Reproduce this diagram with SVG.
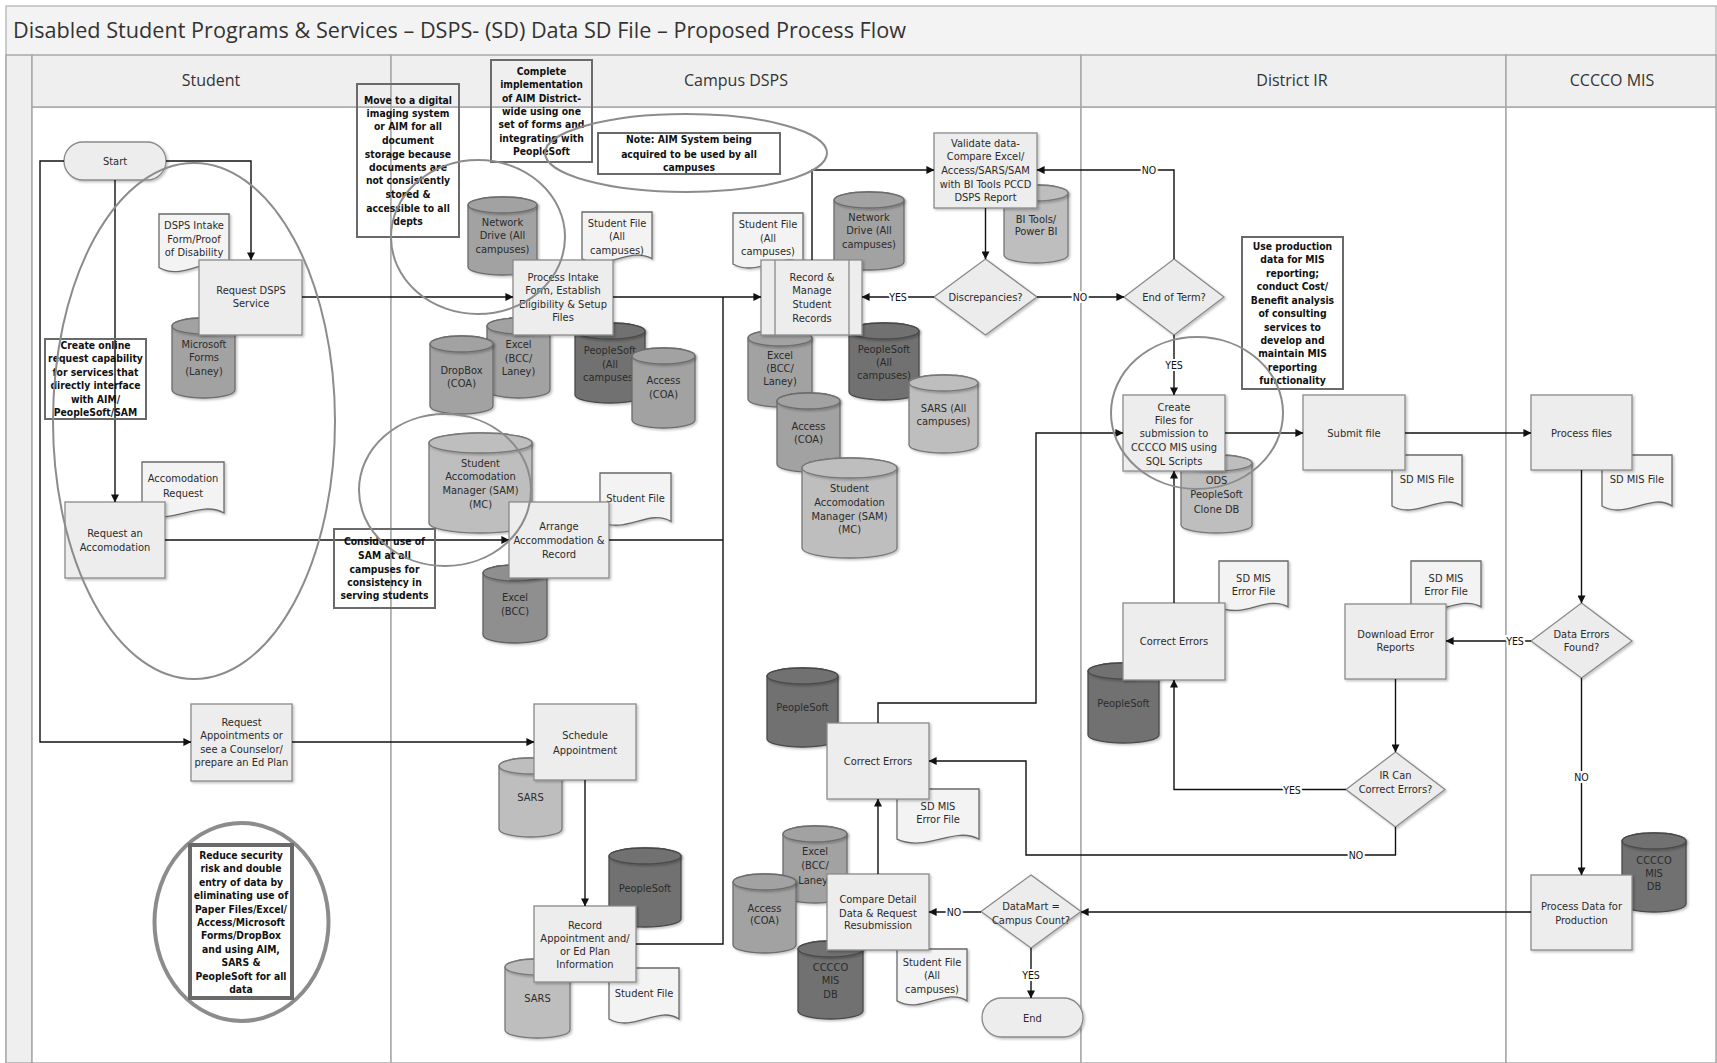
<svg xmlns="http://www.w3.org/2000/svg" width="1717" height="1063" viewBox="0 0 1717 1063">
<defs>
<filter id="sh" x="-10%" y="-10%" width="130%" height="130%"><feDropShadow dx="1.5" dy="1.5" stdDeviation="1.2" flood-color="#000" flood-opacity="0.25"/></filter>
<marker id="ar" viewBox="0 0 10 10" refX="9.5" refY="5" markerWidth="8" markerHeight="8" orient="auto" markerUnits="userSpaceOnUse"><path d="M0,0 L10,5 L0,10 Z" fill="#111"/></marker>
<style>
.lane{fill:#fff;stroke:#a9a9a9;stroke-width:1.5}
.hdr{fill:#efefef;stroke:#a9a9a9;stroke-width:1.5}
.box{fill:#ededed;stroke:#8a8a8a;stroke-width:1.3;filter:url(#sh)}
.dia{fill:#ececec;stroke:#8a8a8a;stroke-width:1.3;filter:url(#sh)}
.doc{fill:#f3f3f3;stroke:#6a6a6a;stroke-width:1.3;filter:url(#sh)}
.cm{fill:#a2a2a2;stroke:#6c6c6c;stroke-width:1.3;filter:url(#sh)}
.cmd{fill:#8f8f8f;stroke:#5e5e5e;stroke-width:1.3;filter:url(#sh)}
.cd{fill:#717171;stroke:#4a4a4a;stroke-width:1.3;filter:url(#sh)}
.cl{fill:#bebebe;stroke:#777;stroke-width:1.3;filter:url(#sh)}
.note{fill:none;stroke:#6a6a6a;stroke-width:2}
.ell{fill:none;stroke:#8c8c8c;stroke-width:2}
.c{fill:none;stroke:#111;stroke-width:1.4}
.a{marker-end:url(#ar)}
.t{font-family:"Liberation Sans Narrow","DejaVu Sans Condensed","Liberation Sans",sans-serif;font-size:11px;fill:#2b2b2b;text-anchor:middle}
.n{font-family:"Liberation Sans Narrow","DejaVu Sans Condensed","Liberation Sans",sans-serif;font-size:10.3px;font-weight:bold;fill:#111;text-anchor:middle}
.lb{font-family:"Liberation Sans Narrow","DejaVu Sans Condensed","Liberation Sans",sans-serif;font-size:10.5px;fill:#111;text-anchor:middle;stroke:#fff;stroke-width:4;paint-order:stroke}
.h{font-family:"Open Sans","Liberation Sans",sans-serif;font-size:16px;fill:#333;text-anchor:middle}
</style>
</defs>

<rect x="0" y="0" width="1717" height="1063" fill="#fff"/>
<g id="frame">
<rect x="6" y="6" width="1710" height="1057" fill="#f3f3f3" stroke="#bdbdbd" stroke-width="1.5"/>
<text x="13" y="38" font-family="Open Sans, Liberation Sans, sans-serif" font-size="21" fill="#333" textLength="893" lengthAdjust="spacingAndGlyphs">Disabled Student Programs &amp; Services – DSPS-  (SD) Data SD File – Proposed Process Flow</text>
<rect x="6" y="55" width="26" height="1008" fill="#efefef" stroke="#a9a9a9" stroke-width="1.5"/>
<rect x="32" y="107" width="359" height="956" class="lane"/>
<rect x="391" y="107" width="690" height="956" class="lane"/>
<rect x="1081" y="107" width="425" height="956" class="lane"/>
<rect x="1506" y="107" width="210" height="956" class="lane"/>
<rect x="32" y="55" width="359" height="52" class="hdr"/>
<rect x="391" y="55" width="690" height="52" class="hdr"/>
<rect x="1081" y="55" width="425" height="52" class="hdr"/>
<rect x="1506" y="55" width="210" height="52" class="hdr"/>
<text class="h" x="211" y="86">Student</text>
<text class="h" x="736" y="86">Campus DSPS</text>
<text class="h" x="1292" y="86">District IR</text>
<text class="h" x="1612" y="86">CCCCO MIS</text>
</g>

<g id="student">
<g id="start"><rect x="64" y="142" width="102" height="38" rx="19" class="box"/><text class="t" x="115" y="165">Start</text></g>
<g id="doc-intake"><path class="doc" d="M159,214 H229 V267.5 C208,253 183.5,282 159,267.5 Z"/><text class="t"><tspan x="194" y="229">DSPS Intake</tspan><tspan x="194" y="243">Form/Proof</tspan><tspan x="194" y="256">of Disability</tspan></text></g>
<g id="cyl-msforms"><path class="cm" d="M172,326 V390 A31.5,8 0 0 0 235,390 V326 A31.5,8 0 0 0 172,326 Z"/><ellipse class="cm" cx="203.5" cy="326" rx="31.5" ry="8"/><text class="t"><tspan x="204" y="348">Microsoft</tspan><tspan x="204" y="361">Forms</tspan><tspan x="204" y="375">(Laney)</tspan></text></g>
<g id="request-dsps"><rect x="199" y="260" width="103" height="75" class="box"/><text class="t"><tspan x="251" y="294">Request DSPS</tspan><tspan x="251" y="307">Service</tspan></text></g>
<g id="doc-accreq"><path class="doc" d="M142,462 H224 V513 C199.4,499.2 170.7,526.8 142,513 Z"/><text class="t"><tspan x="183" y="482">Accomodation</tspan><tspan x="183" y="496.5">Request</tspan></text></g>
<g id="request-acc"><rect x="65" y="502" width="100" height="76" class="box"/><text class="t"><tspan x="115" y="537">Request an</tspan><tspan x="115" y="550.5">Accomodation</tspan></text></g>
<g id="request-appt"><rect x="191" y="704" width="101" height="77" class="box"/><text class="t"><tspan x="241.5" y="725.5">Request</tspan><tspan x="241.5" y="739">Appointments or</tspan><tspan x="241.5" y="753">see a Counselor/</tspan><tspan x="241.5" y="766">prepare an Ed Plan</tspan></text></g>
</g>

<g id="campus">
<g id="cyl-netdrive1"><path class="cm" d="M468,205 V267 A34.5,8 0 0 0 537,267 V205 A34.5,8 0 0 0 468,205 Z"/><ellipse class="cm" cx="502.5" cy="205" rx="34.5" ry="8"/><text class="t"><tspan x="502.5" y="226">Network</tspan><tspan x="502.5" y="239">Drive (All</tspan><tspan x="502.5" y="252.5">campuses)</tspan></text></g>
<g id="doc-sf1"><path class="doc" d="M582,212 H652 V258.8 C631,246.1 606.5,271.4 582,258.8 Z"/><text class="t"><tspan x="617" y="227">Student File</tspan><tspan x="617" y="240">(All</tspan><tspan x="617" y="253.5">campuses)</tspan></text></g>
<g id="cyl-excel1"><path class="cm" d="M487,326 V390 A31.5,8 0 0 0 550,390 V326 A31.5,8 0 0 0 487,326 Z"/><ellipse class="cm" cx="518.5" cy="326" rx="31.5" ry="8"/><text class="t"><tspan x="518.5" y="348">Excel</tspan><tspan x="518.5" y="361.5">(BCC/</tspan><tspan x="518.5" y="375">Laney)</tspan></text></g>
<g id="cyl-dropbox"><path class="cm" d="M430,344 V406 A31.5,8 0 0 0 493,406 V344 A31.5,8 0 0 0 430,344 Z"/><ellipse class="cm" cx="461.5" cy="344" rx="31.5" ry="8"/><text class="t"><tspan x="461.5" y="373.5">DropBox</tspan><tspan x="461.5" y="387">(COA)</tspan></text></g>
<g id="cyl-ps1"><path class="cd" d="M575,331 V395 A35,8 0 0 0 645,395 V331 A35,8 0 0 0 575,331 Z"/><ellipse class="cd" cx="610" cy="331" rx="35" ry="8"/><text class="t"><tspan x="610" y="354">PeopleSoft</tspan><tspan x="610" y="367.5">(All</tspan><tspan x="610" y="381">campuses)</tspan></text></g>
<g id="cyl-access1"><path class="cm" d="M632,356 V420 A31.5,8 0 0 0 695,420 V356 A31.5,8 0 0 0 632,356 Z"/><ellipse class="cm" cx="663.5" cy="356" rx="31.5" ry="8"/><text class="t"><tspan x="663.5" y="384">Access</tspan><tspan x="663.5" y="397.5">(COA)</tspan></text></g>
<g id="process-intake"><rect x="513" y="260" width="100" height="75" class="box"/><text class="t"><tspan x="563" y="281">Process Intake</tspan><tspan x="563" y="294">Form, Establish</tspan><tspan x="563" y="307.5">Eligibility &amp; Setup</tspan><tspan x="563" y="321">Files</tspan></text></g>
<g id="cyl-sam1"><path class="cl" d="M429,443 V523 A51.5,10 0 0 0 532,523 V443 A51.5,10 0 0 0 429,443 Z"/><ellipse class="cl" cx="480.5" cy="443" rx="51.5" ry="10"/><text class="t"><tspan x="480.5" y="467">Student</tspan><tspan x="480.5" y="480">Accomodation</tspan><tspan x="480.5" y="494">Manager (SAM)</tspan><tspan x="480.5" y="507.5">(MC)</tspan></text></g>
<g id="doc-sf2"><path class="doc" d="M600,473 H671 V521.5 C649.7,508.3 624.9,534.6 600,521.5 Z"/><text class="t" x="635.5" y="501.5">Student File</text></g>
<g id="cyl-excelbcc"><path class="cmd" d="M483,573 V635 A32,8 0 0 0 547,635 V573 A32,8 0 0 0 483,573 Z"/><ellipse class="cmd" cx="515" cy="573" rx="32" ry="8"/><text class="t"><tspan x="515" y="601">Excel</tspan><tspan x="515" y="615">(BCC)</tspan></text></g>
<g id="arrange"><rect x="509" y="502" width="100" height="76" class="box"/><text class="t"><tspan x="559" y="530">Arrange</tspan><tspan x="559" y="543.5">Accommodation &amp;</tspan><tspan x="559" y="557.5">Record</tspan></text></g>
<g id="cyl-sars1"><path class="cl" d="M499,766 V829 A31.5,8 0 0 0 562,829 V766 A31.5,8 0 0 0 499,766 Z"/><ellipse class="cl" cx="530.5" cy="766" rx="31.5" ry="8"/><text class="t" x="530.5" y="801">SARS</text></g>
<g id="schedule"><rect x="534" y="704" width="102" height="76" class="box"/><text class="t"><tspan x="585" y="738.5">Schedule</tspan><tspan x="585" y="753.5">Appointment</tspan></text></g>
<g id="cyl-ps-appt"><path class="cd" d="M609,856 V919 A36,8 0 0 0 681,919 V856 A36,8 0 0 0 609,856 Z"/><ellipse class="cd" cx="645" cy="856" rx="36" ry="8"/><text class="t" x="645" y="892">PeopleSoft</text></g>
<g id="cyl-sars2"><path class="cl" d="M505,967 V1030 A32.5,8 0 0 0 570,1030 V967 A32.5,8 0 0 0 505,967 Z"/><ellipse class="cl" cx="537.5" cy="967" rx="32.5" ry="8"/><text class="t" x="537.5" y="1002">SARS</text></g>
<g id="doc-sf3"><path class="doc" d="M609,968 H679 V1019 C658,1005.2 633.5,1032.8 609,1019 Z"/><text class="t" x="644" y="997">Student File</text></g>
<g id="record-appt"><rect x="534" y="906" width="102" height="76" class="box"/><text class="t"><tspan x="585" y="928.5">Record</tspan><tspan x="585" y="942">Appointment and/</tspan><tspan x="585" y="955">or Ed Plan</tspan><tspan x="585" y="968">Information</tspan></text></g>

<g id="doc-sf4"><path class="doc" d="M733,213 H803 V264 C782,250.2 757.5,277.8 733,264 Z"/><text class="t"><tspan x="768" y="228">Student File</tspan><tspan x="768" y="241.5">(All</tspan><tspan x="768" y="255">campuses)</tspan></text></g>
<g id="cyl-netdrive2"><path class="cm" d="M834,200 V262 A35,8 0 0 0 904,262 V200 A35,8 0 0 0 834,200 Z"/><ellipse class="cm" cx="869" cy="200" rx="35" ry="8"/><text class="t"><tspan x="869" y="221">Network</tspan><tspan x="869" y="234">Drive (All</tspan><tspan x="869" y="247.5">campuses)</tspan></text></g>
<g id="cyl-excel2"><path class="cm" d="M748,338 V399 A32,8 0 0 0 812,399 V338 A32,8 0 0 0 748,338 Z"/><ellipse class="cm" cx="780" cy="338" rx="32" ry="8"/><text class="t"><tspan x="780" y="358.5">Excel</tspan><tspan x="780" y="372">(BCC/</tspan><tspan x="780" y="385">Laney)</tspan></text></g>
<g id="cyl-ps2"><path class="cd" d="M849,331 V392 A35,8 0 0 0 919,392 V331 A35,8 0 0 0 849,331 Z"/><ellipse class="cd" cx="884" cy="331" rx="35" ry="8"/><text class="t"><tspan x="884" y="352.5">PeopleSoft</tspan><tspan x="884" y="366">(All</tspan><tspan x="884" y="379">campuses)</tspan></text></g>
<g id="cyl-sarsall"><path class="cl" d="M909,383 V445 A34.5,8 0 0 0 978,445 V383 A34.5,8 0 0 0 909,383 Z"/><ellipse class="cl" cx="943.5" cy="383" rx="34.5" ry="8"/><text class="t"><tspan x="943.5" y="411.5">SARS (All</tspan><tspan x="943.5" y="425">campuses)</tspan></text></g>
<g id="cyl-access2"><path class="cm" d="M777,401 V464 A31.5,8 0 0 0 840,464 V401 A31.5,8 0 0 0 777,401 Z"/><ellipse class="cm" cx="808.5" cy="401" rx="31.5" ry="8"/><text class="t"><tspan x="808.5" y="430">Access</tspan><tspan x="808.5" y="443">(COA)</tspan></text></g>
<g id="cyl-sam2"><path class="cl" d="M802,468 V548 A47.5,10 0 0 0 897,548 V468 A47.5,10 0 0 0 802,468 Z"/><ellipse class="cl" cx="849.5" cy="468" rx="47.5" ry="10"/><text class="t"><tspan x="849.5" y="492">Student</tspan><tspan x="849.5" y="506">Accomodation</tspan><tspan x="849.5" y="520">Manager (SAM)</tspan><tspan x="849.5" y="533">(MC)</tspan></text></g>
<g id="record-manage"><rect x="761" y="260" width="101" height="75" class="box"/><path d="M775,260 V335 M849,260 V335" stroke="#8a8a8a" stroke-width="1.3"/><text class="t"><tspan x="812" y="281">Record &amp;</tspan><tspan x="812" y="294">Manage</tspan><tspan x="812" y="307.5">Student</tspan><tspan x="812" y="321.5">Records</tspan></text></g>
<g id="cyl-bitools"><path class="cl" d="M1004,193 V255 A32,8 0 0 0 1068,255 V193 A32,8 0 0 0 1004,193 Z"/><ellipse class="cl" cx="1036" cy="193" rx="32" ry="8"/><text class="t"><tspan x="1036" y="222.5">BI Tools/</tspan><tspan x="1036" y="235">Power BI</tspan></text></g>
<g id="validate"><rect x="934" y="133" width="103" height="75" class="box"/><text class="t"><tspan x="985.5" y="146.5">Validate data-</tspan><tspan x="985.5" y="160">Compare Excel/</tspan><tspan x="985.5" y="174">Access/SARS/SAM</tspan><tspan x="985.5" y="187.5">with BI Tools PCCD</tspan><tspan x="985.5" y="201">DSPS Report</tspan></text></g>
<g id="discrepancies"><polygon class="dia" points="985.5,259 1037,297 985.5,335 934,297"/><text class="t" x="985.5" y="301">Discrepancies?</text></g>

<g id="cyl-ps-corr"><path class="cd" d="M767,676 V739 A35.5,8 0 0 0 838,739 V676 A35.5,8 0 0 0 767,676 Z"/><ellipse class="cd" cx="802.5" cy="676" rx="35.5" ry="8"/><text class="t" x="802.5" y="711">PeopleSoft</text></g>
<g id="doc-err-campus"><path class="doc" d="M897,789 H979 V839.2 C954.4,825.6 925.7,852.7 897,839.2 Z"/><text class="t"><tspan x="938" y="810">SD MIS</tspan><tspan x="938" y="822.5">Error File</tspan></text></g>
<g id="correct-campus"><rect x="827" y="723" width="102" height="76" class="box"/><text class="t" x="878" y="765">Correct Errors</text></g>
<g id="cyl-excel3"><path class="cm" d="M783,834 V895 A32,8 0 0 0 847,895 V834 A32,8 0 0 0 783,834 Z"/><ellipse class="cm" cx="815" cy="834" rx="32" ry="8"/><text class="t"><tspan x="815" y="855">Excel</tspan><tspan x="815" y="869">(BCC/</tspan><tspan x="815" y="883.5">Laney)</tspan></text></g>
<g id="cyl-access3"><path class="cm" d="M733,882 V945 A31.5,8 0 0 0 796,945 V882 A31.5,8 0 0 0 733,882 Z"/><ellipse class="cm" cx="764.5" cy="882" rx="31.5" ry="8"/><text class="t"><tspan x="764.5" y="911.5">Access</tspan><tspan x="764.5" y="924">(COA)</tspan></text></g>
<g id="cyl-cccco2"><path class="cd" d="M798,949 V1011 A32.5,8 0 0 0 863,1011 V949 A32.5,8 0 0 0 798,949 Z"/><ellipse class="cd" cx="830.5" cy="949" rx="32.5" ry="8"/><text class="t"><tspan x="830.5" y="971">CCCCO</tspan><tspan x="830.5" y="984">MIS</tspan><tspan x="830.5" y="997.5">DB</tspan></text></g>
<g id="doc-sf5"><path class="doc" d="M897,949 H967 V1000.9 C946,986.8 921.5,1014.9 897,1000.9 Z"/><text class="t"><tspan x="932" y="966">Student File</tspan><tspan x="932" y="979">(All</tspan><tspan x="932" y="992.5">campuses)</tspan></text></g>
<g id="compare"><rect x="827" y="874" width="102" height="76" class="box"/><text class="t"><tspan x="878" y="903">Compare Detail</tspan><tspan x="878" y="916.5">Data &amp; Request</tspan><tspan x="878" y="929">Resubmission</tspan></text></g>
<g id="datamart"><polygon class="dia" points="1031,875 1081,911.5 1031,948 981,911.5"/><text class="t"><tspan x="1031" y="910">DataMart =</tspan><tspan x="1031" y="923.5">Campus Count?</tspan></text></g>
<g id="end"><rect x="982" y="998" width="101" height="39" rx="19.5" class="box"/><text class="t" x="1032.5" y="1022">End</text></g>
</g>

<g id="district">
<g id="endofterm"><polygon class="dia" points="1174,259 1224,297 1174,335 1124,297"/><text class="t" x="1174" y="301">End of Term?</text></g>
<g id="cyl-ods"><path class="cl" d="M1181,463 V525 A35.5,8 0 0 0 1252,525 V463 A35.5,8 0 0 0 1181,463 Z"/><ellipse class="cl" cx="1216.5" cy="463" rx="35.5" ry="8"/><text class="t"><tspan x="1216.5" y="484">ODS</tspan><tspan x="1216.5" y="498">PeopleSoft</tspan><tspan x="1216.5" y="512.5">Clone DB</tspan></text></g>
<g id="create-files"><rect x="1123" y="395" width="102" height="76" class="box"/><text class="t"><tspan x="1174" y="411">Create</tspan><tspan x="1174" y="423.5">Files for</tspan><tspan x="1174" y="437">submission to</tspan><tspan x="1174" y="451">CCCCO MIS using</tspan><tspan x="1174" y="464.5">SQL Scripts</tspan></text></g>
<g id="doc-sdmis1"><path class="doc" d="M1392,455 H1462 V506 C1441,492.2 1416.5,519.8 1392,506 Z"/><text class="t" x="1427" y="483">SD MIS File</text></g>
<g id="submit"><rect x="1303" y="395" width="102" height="75" class="box"/><text class="t" x="1354" y="437">Submit file</text></g>
<g id="doc-err-ir"><path class="doc" d="M1219,561 H1288 V606.9 C1267.3,594.5 1243.2,619.3 1219,606.9 Z"/><text class="t"><tspan x="1253.5" y="581.5">SD MIS</tspan><tspan x="1253.5" y="595">Error File</tspan></text></g>
<g id="cyl-ps-ir"><path class="cd" d="M1088,671 V735 A35.5,8 0 0 0 1159,735 V671 A35.5,8 0 0 0 1088,671 Z"/><ellipse class="cd" cx="1123.5" cy="671" rx="35.5" ry="8"/><text class="t" x="1123.5" y="707">PeopleSoft</text></g>
<g id="correct-ir"><rect x="1123" y="603" width="102" height="77" class="box"/><text class="t" x="1174" y="645">Correct Errors</text></g>
<g id="doc-err-dl"><path class="doc" d="M1411,561 H1481 V606.9 C1460,594.5 1435.5,619.3 1411,606.9 Z"/><text class="t"><tspan x="1446" y="581.5">SD MIS</tspan><tspan x="1446" y="595">Error File</tspan></text></g>
<g id="download"><rect x="1345" y="604" width="101" height="75" class="box"/><text class="t"><tspan x="1395.5" y="638">Download Error</tspan><tspan x="1395.5" y="651">Reports</tspan></text></g>
<g id="ircan"><polygon class="dia" points="1395.5,752 1445,789.5 1395.5,827 1346,789.5"/><text class="t"><tspan x="1395.5" y="779">IR Can</tspan><tspan x="1395.5" y="793">Correct Errors?</tspan></text></g>
</g>

<g id="cccco">
<g id="doc-sdmis2"><path class="doc" d="M1602,455 H1672 V506 C1651,492.2 1626.5,519.8 1602,506 Z"/><text class="t" x="1637" y="483">SD MIS File</text></g>
<g id="process-files"><rect x="1531" y="395" width="101" height="75" class="box"/><text class="t" x="1581.5" y="437">Process files</text></g>
<g id="dataerrors"><polygon class="dia" points="1581.5,603 1632,641 1581.5,678 1531,641"/><text class="t"><tspan x="1581.5" y="638">Data Errors</tspan><tspan x="1581.5" y="651">Found?</tspan></text></g>
<g id="cyl-cccco1"><path class="cd" d="M1622,841 V904 A32,8 0 0 0 1686,904 V841 A32,8 0 0 0 1622,841 Z"/><ellipse class="cd" cx="1654" cy="841" rx="32" ry="8"/><text class="t"><tspan x="1654" y="863.5">CCCCO</tspan><tspan x="1654" y="877">MIS</tspan><tspan x="1654" y="889.5">DB</tspan></text></g>
<g id="process-data"><rect x="1531" y="875" width="101" height="75" class="box"/><text class="t"><tspan x="1581.5" y="910">Process Data for</tspan><tspan x="1581.5" y="923.5">Production</tspan></text></g>
</g>

<g id="connectors">
<path class="c a" d="M64,161 H40 V742 H191"/>
<path class="c a" d="M166,161 H251 V260"/>
<path class="c a" d="M115,180 V502"/>
<path class="c a" d="M302,297 H513"/>
<path class="c a" d="M613,297 H761"/>
<path class="c a" d="M165,540 H509"/>
<path class="c" d="M609,540 H723"/>
<path class="c" d="M636,944 H723 V297"/>
<path class="c a" d="M292,742 H534"/>
<path class="c a" d="M585,780 V906"/>
<path class="c a" d="M812,260 V170 H934"/>
<path class="c a" d="M985.5,208 V259"/>
<path class="c a" d="M934,297 H862"/>
<path class="c a" d="M1037,297 H1124"/>
<path class="c a" d="M1174,259 V170 H1037"/>
<path class="c a" d="M1174,335 V395"/>
<path class="c a" d="M1225,433 H1303"/>
<path class="c a" d="M1405,433 H1531"/>
<path class="c a" d="M1581.5,470 V603"/>
<path class="c a" d="M1531,641 H1446"/>
<path class="c a" d="M1395.5,679 V752"/>
<path class="c a" d="M1346,789.5 H1174 V680"/>
<path class="c a" d="M1395.5,827 V855 H1026 V761 H929"/>
<path class="c a" d="M1174,603 V471"/>
<path class="c a" d="M878,723 V703 H1036 V433 H1123"/>
<path class="c a" d="M1581.5,678 V875"/>
<path class="c a" d="M1531,912 H1081"/>
<path class="c a" d="M981,912 H929"/>
<path class="c a" d="M1031,948 V998"/>
<path class="c a" d="M878,874 V799"/>
<text class="lb" x="898" y="301">YES</text>
<text class="lb" x="1080" y="301">NO</text>
<text class="lb" x="1149" y="174">NO</text>
<text class="lb" x="1174" y="369">YES</text>
<text class="lb" x="1515" y="645">YES</text>
<text class="lb" x="1292" y="793.5">YES</text>
<text class="lb" x="1356" y="859">NO</text>
<text class="lb" x="1581.5" y="781">NO</text>
<text class="lb" x="954" y="916">NO</text>
<text class="lb" x="1031" y="979">YES</text>
</g>

<g id="notes">
<g id="note-online"><rect class="note" x="45" y="339" width="101" height="80"/><text class="n"><tspan x="95.5" y="349">Create online</tspan><tspan x="95.5" y="362">request capability</tspan><tspan x="95.5" y="375.5">for services that</tspan><tspan x="95.5" y="389">directly interface</tspan><tspan x="95.5" y="402.5">with AIM/</tspan><tspan x="95.5" y="416">PeopleSoft/SAM</tspan></text></g>
<g id="note-reduce"><ellipse cx="241.5" cy="922" rx="87" ry="99" fill="none" stroke="#8c8c8c" stroke-width="4"/><rect x="190" y="845" width="102" height="153" fill="none" stroke="#6a6a6a" stroke-width="4"/><text class="n"><tspan x="241" y="859">Reduce security</tspan><tspan x="241" y="872.4">risk and double</tspan><tspan x="241" y="885.8">entry of data by</tspan><tspan x="241" y="899.2">eliminating use of</tspan><tspan x="241" y="912.6">Paper Files/Excel/</tspan><tspan x="241" y="926">Access/Microsoft</tspan><tspan x="241" y="939.4">Forms/DropBox</tspan><tspan x="241" y="952.8">and using AIM,</tspan><tspan x="241" y="966.2">SARS &amp;</tspan><tspan x="241" y="979.6">PeopleSoft for all</tspan><tspan x="241" y="993">data</tspan></text></g>
<g id="note-digital"><rect class="note" x="357" y="84" width="102" height="153"/><text class="n"><tspan x="408" y="103.5">Move to a digital</tspan><tspan x="408" y="117">imaging system</tspan><tspan x="408" y="130">or AIM for all</tspan><tspan x="408" y="144">document</tspan><tspan x="408" y="157.5">storage because</tspan><tspan x="408" y="171">documents are</tspan><tspan x="408" y="184">not consistently</tspan><tspan x="408" y="198">stored &amp;</tspan><tspan x="408" y="211.5">accessible to all</tspan><tspan x="408" y="225">depts</tspan></text></g>
<g id="note-complete"><rect class="note" x="491" y="60" width="101" height="102"/><text class="n"><tspan x="541.5" y="75">Complete</tspan><tspan x="541.5" y="88">implementation</tspan><tspan x="541.5" y="101.5">of AIM District-</tspan><tspan x="541.5" y="115">wide using one</tspan><tspan x="541.5" y="128">set of forms and</tspan><tspan x="541.5" y="141.5">integrating with</tspan><tspan x="541.5" y="155">PeopleSoft</tspan></text></g>
<g id="note-aim"><rect class="note" x="598" y="133" width="182" height="41" stroke-width="1.5"/><text class="n"><tspan x="689" y="143">Note: AIM System being</tspan><tspan x="689" y="157.5">acquired to be used by all</tspan><tspan x="689" y="171">campuses</tspan></text></g>
<g id="note-sam"><rect class="note" x="334" y="529" width="101" height="79"/><text class="n"><tspan x="384.5" y="545">Consider use of</tspan><tspan x="384.5" y="558.5">SAM at all</tspan><tspan x="384.5" y="572.5">campuses for</tspan><tspan x="384.5" y="586">consistency in</tspan><tspan x="384.5" y="599">serving students</tspan></text></g>
<g id="note-production"><rect class="note" x="1242" y="237" width="101" height="152"/><text class="n"><tspan x="1292.5" y="250">Use production</tspan><tspan x="1292.5" y="263.4">data for MIS</tspan><tspan x="1292.5" y="276.9">reporting;</tspan><tspan x="1292.5" y="290.3">conduct Cost/</tspan><tspan x="1292.5" y="303.7">Benefit analysis</tspan><tspan x="1292.5" y="317.2">of consulting</tspan><tspan x="1292.5" y="330.6">services to</tspan><tspan x="1292.5" y="344">develop and</tspan><tspan x="1292.5" y="357.4">maintain MIS</tspan><tspan x="1292.5" y="370.9">reporting</tspan><tspan x="1292.5" y="384.3">functionality</tspan></text></g>
</g>

<g id="highlights">
<ellipse class="ell" cx="194" cy="421" rx="141" ry="258"/>
<ellipse class="ell" cx="478" cy="237" rx="87" ry="77"/>
<ellipse class="ell" cx="686" cy="153" rx="141" ry="39"/>
<ellipse class="ell" cx="445" cy="490" rx="86" ry="76"/>
<ellipse class="ell" cx="1197" cy="413" rx="86" ry="76"/>
</g>
</svg>
